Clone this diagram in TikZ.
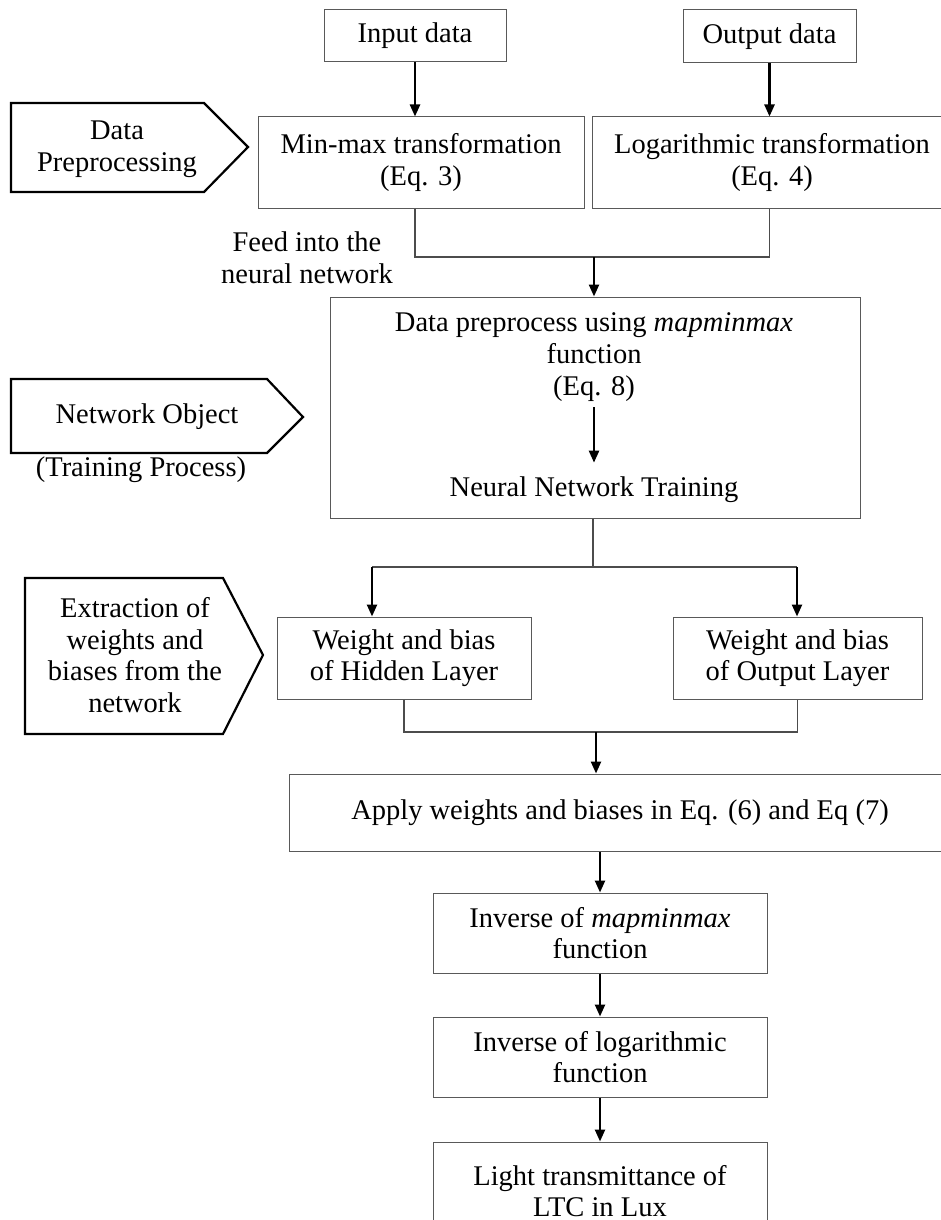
\documentclass[tikz,border=0pt]{standalone}
\usepackage{fontspec}
\setmainfont{Liberation Serif}
\usepackage{tikz}
\usetikzlibrary{arrows.meta, positioning, calc}

\begin{document}
\begin{tikzpicture}[
    x=0.5pt, y=-0.5pt,
    box/.style={rectangle, draw=black!65, line width=0.5pt, fill=white, align=center, inner sep=2pt, font=\fontsize{14.25}{15.8}\selectfont},
    txt/.style={align=center, inner sep=0pt, font=\fontsize{14.25}{15.8}\selectfont},
    tag/.style={draw=black, line width=1.1pt, line join=miter},
    conn/.style={draw=black!70, line width=0.6pt},
    arr/.style={draw=black, line width=1.2pt, -{Triangle[length=6pt, width=5pt]}}
]
    \fill[white] (0,0) rectangle (941,1220);
    \useasboundingbox (0,0) rectangle (941,1220);
    \clip (0,0) rectangle (941,1220);

    % Left side tags
    \draw[tag] (11,103) -- (204,103) -- (248,147) -- (204,192) -- (11,192) -- cycle;
    \node[txt] (T_PRE) at (117,149) {Data\\Preprocessing};
    \draw[tag] (11,379) -- (267,379) -- (303,417) -- (267,453) -- (11,453) -- cycle;
    \node[txt] (T_NET) at (147,417) {Network Object};
    \node[txt] (T_TRN) at (141,470) {(Training Process)};
    \draw[tag] (25,578) -- (223,578) -- (263,655) -- (223,734) -- (25,734) -- cycle;
    \node[txt] (T_EXT) at (135,655) {Extraction of\\weights and\\biases from the\\network};

    % Data boxes
    \node[box, minimum width=91pt, minimum height=26pt] (IN) at (415,36) {Input data};
    \node[box, minimum width=86.5pt, minimum height=26.5pt] (OUT) at (769.5,36.5) {Output data};
    \node[box, minimum width=163pt, minimum height=45.5pt] (MINMAX) at (421,162.5) {Min-max transformation\\(Eq. 3)};
    \node[box, minimum width=180pt, minimum height=45.5pt] (LOG) at (772,162.5) {Logarithmic transformation\\(Eq. 4)};
    \node[txt] (FEED) at (307,258) {Feed into the\\neural network};

    % Network object
    \node[box, minimum width=265pt, minimum height=110.5pt] (NET) at (595,407.5) {};
    \node[txt] (NET_PRE) at (594,357) {Data preprocess using \textit{mapminmax}\\function\\(Eq. 8)};
    \node[txt] (NET_TRN) at (594,490) {Neural Network Training};

    % Weights and biases
    \node[box, minimum width=127pt, minimum height=41pt] (W_HID) at (404,658) {Weight and bias\\of Hidden Layer};
    \node[box, minimum width=124.5pt, minimum height=41pt] (W_OUT) at (797.5,658) {Weight and bias\\of Output Layer};
    \node[box, minimum width=331pt, minimum height=38.5pt] (APPLY) at (620,812.5) {Apply weights and biases in Eq. (6) and Eq (7)};

    % Post processing
    \node[box, minimum width=167pt, minimum height=40pt] (INV_MM) at (600,933) {Inverse of \textit{mapminmax}\\function};
    \node[box, minimum width=167pt, minimum height=40pt] (INV_LOG) at (600,1057) {Inverse of logarithmic\\function};
    \node[box, minimum width=167pt, minimum height=49pt] (LUX) at (600,1191) {Light transmittance of\\LTC in Lux};

    % Junctions
    \coordinate (J1) at (594,257);
    \coordinate (J2) at (593,567);
    \coordinate (J2L) at (372,567);
    \coordinate (J2R) at (797,567);
    \coordinate (J3) at (596,732);

    % Connections
    \draw[arr] (IN) -- (IN |- MINMAX.north);
    \draw[arr] (OUT) -- (OUT |- LOG.north);
    \draw[conn] (MINMAX.south -| IN) |- (J1) -| (LOG.south -| OUT);
    \draw[arr] (J1) -- (J1 |- NET.north);
    \draw[arr, shorten <=3pt, shorten >=7pt] (NET_PRE) -- (NET_PRE |- NET_TRN.north);
    \draw[conn] (NET.south -| J2) -- (J2);
    \draw[conn] (J2L) -- (J2R);
    \draw[arr] (J2L) -- (J2L |- W_HID.north);
    \draw[arr] (J2R) -- (J2R |- W_OUT.north);
    \draw[conn] (W_HID.south) |- (J3) -| (W_OUT.south);
    \draw[arr] (J3) -- (J3 |- APPLY.north);
    \draw[arr] (APPLY.south -| INV_MM) -- (INV_MM);
    \draw[arr] (INV_MM) -- (INV_LOG);
    \draw[arr] (INV_LOG) -- (LUX);
\end{tikzpicture}
\end{document}
